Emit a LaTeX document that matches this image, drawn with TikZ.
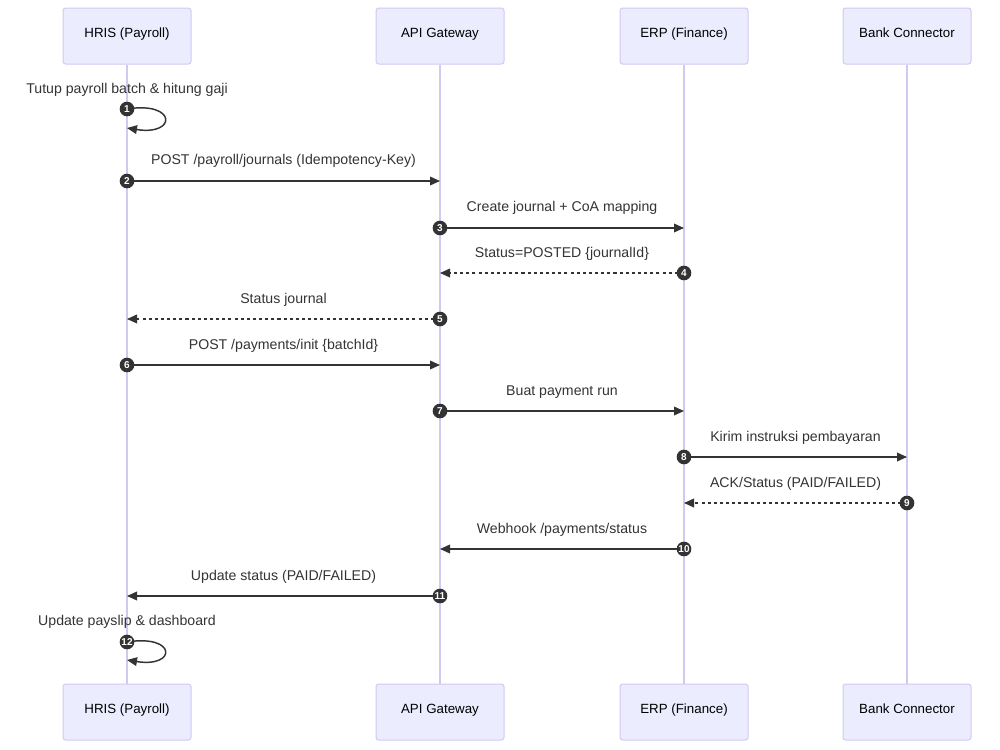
\documentclass[tikz,border=0pt]{standalone}
\usepackage{fontspec}
\setmainfont{Liberation Sans}
\usetikzlibrary{arrows.meta}
\definecolor{actfill}{HTML}{ECECFF}
\definecolor{actline}{HTML}{D3C8F2}
\definecolor{ink}{HTML}{333333}
\tikzset{
  actor/.style={draw=actline, fill=actfill, line width=0.75pt, rounded corners=2pt,
    minimum width=96pt, minimum height=42pt, inner sep=0pt, text=black,
    text height=7.5pt, text depth=5pt, font=\fontsize{10}{12}\selectfont},
  life/.style={draw=actline, line width=1.1pt},
  msg/.style={draw=ink, line width=1.1pt, -{Triangle[length=7.5pt,width=6.5pt]}},
  reply/.style={msg, dash pattern=on 2.3pt off 2.3pt},
  num/.style={circle, fill=ink, text=white, inner sep=0pt, minimum size=11pt,
    font=\fontsize{7.5}{8}\selectfont\bfseries},
  lbl/.style={text=ink, font=\fontsize{10.6}{12}\selectfont, inner sep=0pt}
}
\begin{document}
\begin{tikzpicture}[x=0.75pt,y=-0.75pt]
\useasboundingbox (0,0) rectangle (1000,750);
% actors
\node[actor] (hT) at (127,36) {HRIS (Payroll)};
\node[actor] (aT) at (440,36) {API Gateway};
\node[actor] (eT) at (684,36) {ERP (Finance)};
\node[actor] (bT) at (907,36) {Bank Connector};
\node[actor] (hB) at (127,712) {HRIS (Payroll)};
\node[actor] (aB) at (440,712) {API Gateway};
\node[actor] (eB) at (684,712) {ERP (Finance)};
\node[actor] (bB) at (907,712) {Bank Connector};
% lifelines
\draw[life] (hT.south) -- (hB.north);
\draw[life] (aT.south) -- (aB.north);
\draw[life] (eT.south) -- (eB.north);
\draw[life] (bT.south) -- (bB.north);
% message endpoints
\coordinate (s1) at (127,109); \coordinate (e1) at (127,128);
\coordinate (s2) at (127,181); \coordinate (e2) at (440,181);
\coordinate (s3) at (440,228); \coordinate (e3) at (684,228);
\coordinate (s4) at (684,273); \coordinate (e4) at (440,273);
\coordinate (s5) at (440,319); \coordinate (e5) at (127,319);
\coordinate (s6) at (127,365); \coordinate (e6) at (440,365);
\coordinate (s7) at (440,411); \coordinate (e7) at (684,411);
\coordinate (s8) at (684,457); \coordinate (e8) at (907,457);
\coordinate (s9) at (907,503); \coordinate (e9) at (684,503);
\coordinate (s10) at (684,549); \coordinate (e10) at (440,549);
\coordinate (s11) at (440,596); \coordinate (e11) at (127,596);
\coordinate (s12) at (127,642); \coordinate (e12) at (127,660);
% messages
\draw[msg] (s1) .. controls (177,101) and (177,136) .. (e1);
\draw[msg] (s2) -- (e2);
\draw[msg] (s3) -- (e3);
\draw[reply] (s4) -- (e4);
\draw[reply] (s5) -- (e5);
\draw[msg] (s6) -- (e6);
\draw[msg] (s7) -- (e7);
\draw[msg] (s8) -- (e8);
\draw[reply] (s9) -- (e9);
\draw[msg] (s10) -- (e10);
\draw[msg] (s11) -- (e11);
\draw[msg] (s12) .. controls (177,634) and (177,668) .. (e12);
% labels
\node[lbl] (l1) at (127,90) {Tutup payroll batch \& hitung gaji};
\node[lbl] (l2) at (283.5,161) {POST /payroll/journals (Idempotency-Key)};
\node[lbl] (l3) at (562,208) {Create journal + CoA mapping};
\node[lbl] (l4) at (562,254) {Status=POSTED \{journalId\}};
\node[lbl] (l5) at (283.5,300) {Status journal};
\node[lbl] (l6) at (283.5,346) {POST /payments/init \{batchId\}};
\node[lbl] (l7) at (562,392) {Buat payment run};
\node[lbl] (l8) at (795.5,438) {Kirim instruksi pembayaran};
\node[lbl] (l9) at (795.5,484) {ACK/Status (PAID/FAILED)};
\node[lbl] (l10) at (562,530) {Webhook /payments/status};
\node[lbl] (l11) at (283.5,577) {Update status (PAID/FAILED)};
\node[lbl] (l12) at (127,622) {Update payslip \& dashboard};
% numbers
\foreach \i in {1,...,12} { \node[num] (n\i) at (s\i) {\i}; }
\end{tikzpicture}
\end{document}
